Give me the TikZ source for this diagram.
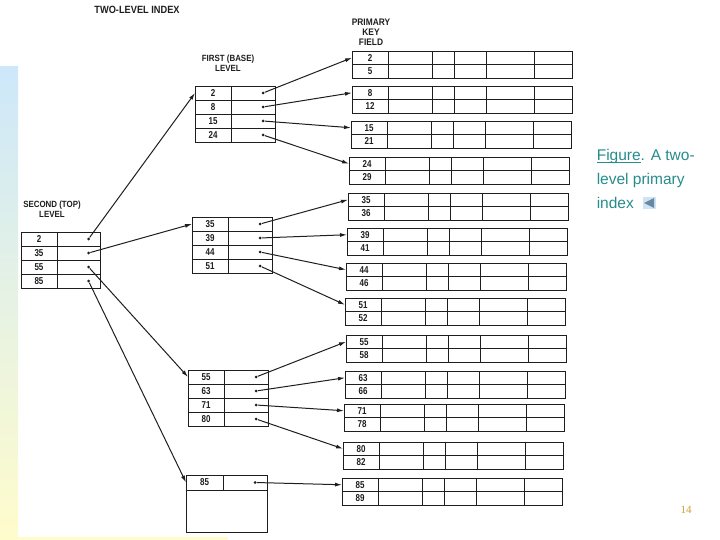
\documentclass[tikz,border=0pt]{standalone}
\usepackage{fontspec}
\setmainfont{Liberation Sans}
\newfontfamily\narrowfont[FakeStretch=0.8]{Liberation Sans}
\newfontfamily\headfont[FakeStretch=0.88]{Liberation Sans}
\newfontfamily\pagefont{Liberation Serif}
\usepackage{tikz}
\usetikzlibrary{arrows.meta,calc,positioning}
\definecolor{slideblue}{RGB}{205,232,250}
\definecolor{slideyellow}{RGB}{255,252,204}
\definecolor{capteal}{RGB}{38,140,140}
\definecolor{pagegold}{RGB}{200,160,50}
\definecolor{navfill}{RGB}{205,228,246}
\definecolor{navgray}{RGB}{105,135,160}
\definecolor{inkgray}{RGB}{30,30,30}
\newcommand\capul[1]{\setbox0\hbox{#1}\rlap{\rule[-2.4pt]{\wd0}{0.8pt}}#1}

\begin{document}
\begin{tikzpicture}[x=1pt,y=-1pt,
  line width=0.9pt,draw=inkgray,
  head/.style={align=center,text=inkgray,font=\headfont\bfseries\fontsize{9}{10}\selectfont},
  keycell/.style={draw,outer sep=0pt,inner sep=0pt,minimum width=36pt,minimum height=14pt,
                  text=inkgray,font=\narrowfont\bfseries\fontsize{10}{10}\selectfont},
  ptrcell/.style={draw,outer sep=0pt,inner sep=0pt,minimum width=44pt,minimum height=14pt},
  reckey/.style={keycell,minimum height=13.5pt},
  ptrdot/.style={circle,fill=inkgray,inner sep=0pt,minimum size=3pt},
  link/.style={->,line width=1pt},
  >={Latex[length=7pt,width=4pt]}
]
  \useasboundingbox (0,0) rectangle (720,540);
  \shade[top color=slideblue,bottom color=slideyellow,draw=none] (0,67) rectangle (18,540);
  \fill[slideyellow] (18,537) rectangle (228,540);

  \node[head,font=\headfont\bfseries\fontsize{10.5}{10}\selectfont] (title) at (137,10) {TWO-LEVEL INDEX};
  \node[head] (firsthd) at (228,63) {FIRST (BASE)\\LEVEL};
  \node[head,font=\headfont\bfseries\fontsize{9.5}{10}\selectfont] (keyhd) at (371,32) {PRIMARY\\KEY\\FIELD};
  \node[head] (secondhd) at (52,209) {SECOND (TOP)\\LEVEL};

  % second level
  \foreach \k [count=\r] in {2,35,55,85} {
    \node[keycell,anchor=north west] (sk\r) at (21,{232+(\r-1)*14}) {\k};
    \node[ptrcell,minimum width=43pt,right=0pt of sk\r] (sp\r) {};
    \node[ptrdot] (sd\r) at ($(sp\r.center)+(10,0)$) {};
  }

  % first level
  \foreach \blk/\x/\y/\keys in {a/195/86/{2,8,15,24},b/192/217/{35,39,44,51},c/188/370/{55,63,71,80}} {
    \foreach \k [count=\r] in \keys {
      \node[keycell,anchor=north west] (\blk k\r) at (\x,{\y+(\r-1)*14}) {\k};
      \node[ptrcell,right=0pt of \blk k\r] (\blk p\r) {};
      \node[ptrdot] (\blk d\r) at ($(\blk p\r.center)+(10,0)$) {};
    }
  }
  \node[keycell,anchor=north west,minimum width=37pt,minimum height=15pt] (dk1) at (186,475) {85};
  \node[ptrcell,minimum height=15pt,right=0pt of dk1] (dp1) {};
  \node[ptrdot] (dd1) at ($(dp1.center)+(10,0)$) {};
  \node[draw,outer sep=0pt,anchor=north west,minimum width=81pt,minimum height=42pt] (dbox) at (dk1.south west) {};

  % data blocks
  \foreach \i/\x/\y/\ka/\kb in {1/352/51/2/5,2/352/86/8/12,3/351/121/15/21,4/349/157/24/29,
      5/348/193/35/36,6/347/228/39/41,7/346/263/44/46,8/345/298/51/52,9/346/335/55/58,
      10/345/371/63/66,11/344/404/71/78,12/343/442/80/82,13/342/478/85/89} {
    \node[reckey,anchor=north west] (r\i k1) at (\x,\y) {\ka};
    \node[reckey,below=0pt of r\i k1] (r\i k2) {\kb};
    \draw (r\i k1.north east) rectangle ++(184,27) (r\i k1.south east) -- ++(184,0);
    \foreach \w in {44,66,98,146}
      \draw (r\i k1.north east) ++(\w,0) -- ++(0,27);
  }

  \draw[link] (sd1) -- (ak1.west);
  \draw[link] (sd2) -- (bk1.west);
  \draw[link] (sd3) -- (ck1.west);
  \draw[link] (sd4) -- (dk1.west);

  \foreach \r in {1,2,3,4} {
    \pgfmathtruncatemacro\ra{\r}
    \pgfmathtruncatemacro\rb{\r+4}
    \pgfmathtruncatemacro\rc{\r+8}
    \draw[link] (ad\r) -- (r\ra k1.west);
    \draw[link] (bd\r) -- (r\rb k1.west);
    \draw[link] (cd\r) -- (r\rc k1.west);
  }
  \draw[link] (dd1) -- (r13k1.west);

  \node[anchor=west,align=left,text=capteal,font=\fontsize{15.5}{24}\selectfont] (caption) at (593,179)
    {\capul{Figure}. A two-\\level primary\\index\hspace{9pt}\phantom{M}};
  \node[fill=navfill,minimum width=13pt,minimum height=12pt,inner sep=0pt] (navbtn) at (649,203) {};
  \fill[navgray] ($(navbtn.center)+(-5,0)$) -- ($(navbtn.center)+(5,-5)$) -- ($(navbtn.center)+(5,5)$) -- cycle;
  \node[text=pagegold,font=\pagefont\fontsize{11}{12}\selectfont] (pagenum) at (686,510) {14};
\end{tikzpicture}
\end{document}
